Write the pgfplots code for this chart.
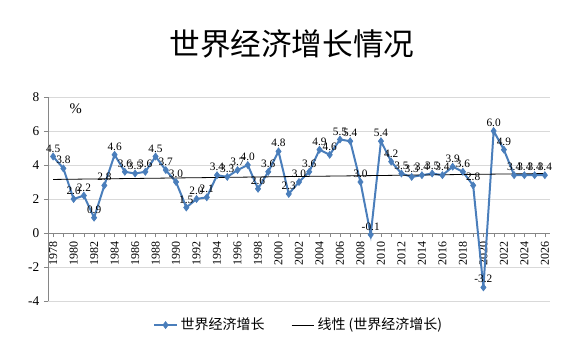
\documentclass[border=0pt]{standalone}
\usepackage{pgfplots}
\pgfplotsset{compat=1.18}
\usepackage{fontspec}
\setmainfont{Liberation Serif}
\newfontfamily\cjk{Noto Sans CJK SC}
\definecolor{ser}{RGB}{74,126,187}
\definecolor{gridc}{RGB}{217,217,217}
\definecolor{axc}{RGB}{134,134,134}
\begin{document}
\begin{tikzpicture}[x=1pt,y=1pt]
\useasboundingbox (-36,-45.75) rectangle (401.25,225.75);
\begin{axis}[
  at={(0,0)}, anchor=south west,
  scale only axis, width=376.5pt, height=153pt,
  xmin=1977.5, xmax=2026.5, ymin=-4, ymax=8,
  axis y line=left, axis x line=middle,
  axis line style={-, draw=axc},
  every inner x axis line/.append style={-},
  every outer y axis line/.append style={-},
  ytick={-4,-2,0,2,4,6,8},
  xtick={1978,1980,...,2026},
  minor xtick={1979,1981,...,2025},
  tick align=outside,
  major tick length=3pt, minor tick length=3pt,
  tick style={draw=axc},
  ymajorgrids, grid style={draw=gridc},
  /pgf/number format/assume math mode=true,
  /pgf/number format/1000 sep={},
  xticklabel style={rotate=90, anchor=east, font=\fontsize{9}{9}\selectfont},
  yticklabel style={font=\fontsize{10}{10}\selectfont},
  clip=false,
  legend style={at={(0.5,-0.118)}, anchor=center, draw=none, fill=none,
    legend columns=2, font=\cjk\fontsize{10.5}{10.5}\selectfont,
    /tikz/every even column/.append style={column sep=18pt}},
]
\addplot[ser, line width=1.5pt, mark=diamond*, mark size=2.6pt,
  mark options={fill=ser, draw=ser, line width=0.5pt},
  nodes near coords, point meta=y,
  nodes near coords align={anchor=south},
  every node near coord/.append style={text=black, font=\fontsize{8.5}{8.5}\selectfont,
    inner sep=1pt, anchor=south, yshift=2pt,
    /pgf/number format/fixed, /pgf/number format/fixed zerofill,
    /pgf/number format/precision=1, /pgf/number format/assume math mode=true}]
coordinates {
(1978,4.5) (1979,3.8) (1980,2.0) (1981,2.2) (1982,0.9) (1983,2.8) (1984,4.6)
(1985,3.6) (1986,3.5) (1987,3.6) (1988,4.5) (1989,3.7) (1990,3.0) (1991,1.5)
(1992,2.0) (1993,2.1) (1994,3.4) (1995,3.3) (1996,3.7) (1997,4.0) (1998,2.6)
(1999,3.6) (2000,4.8) (2001,2.3) (2002,3.0) (2003,3.6) (2004,4.9) (2005,4.6)
(2006,5.5) (2007,5.4) (2008,3.0) (2009,-0.1) (2010,5.4) (2011,4.2) (2012,3.5)
(2013,3.3) (2014,3.4) (2015,3.5) (2016,3.4) (2017,3.9) (2018,3.6) (2019,2.8)
(2020,-3.2) (2021,6.0) (2022,4.9) (2023,3.4) (2024,3.4) (2025,3.4) (2026,3.4)
};
\addlegendentry{世界经济增长}
\addplot[black, line width=0.6pt] coordinates {(1978,3.15) (2026,3.5)};
\addlegendentry{线性 (世界经济增长)}
\node[font=\fontsize{11}{11}\selectfont] at (axis cs:1980.2,7.3) {\%};
\end{axis}
\node[font=\cjk\fontsize{23}{23}\selectfont] at (183,193) {世界经济增长情况};
\end{tikzpicture}
\end{document}
